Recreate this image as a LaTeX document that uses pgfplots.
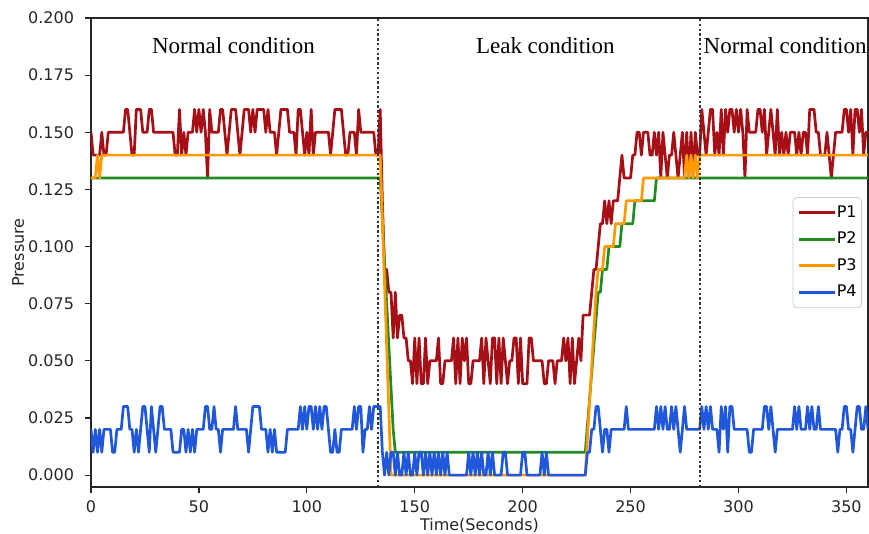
\documentclass[border=0pt]{standalone}
\usepackage{fontspec}
\setmainfont{DejaVu Sans}
\newfontfamily\annfont{Liberation Serif}
\usepackage{pgfplots}
\usepackage{pgfplotstable}
\pgfplotsset{compat=1.18}
\definecolor{cP1}{HTML}{A50F15}
\definecolor{cP2}{HTML}{228B22}
\definecolor{cP3}{HTML}{FF9A00}
\definecolor{cP4}{HTML}{2158DB}
\pgfplotstableread{
t p1 p4
0 0.15 0.02
1 0.14 0.01
2 0.14 0.02
3 0.14 0.01
4 0.14 0.02
5 0.15 0.01
6 0.14 0.02
7 0.14 0.02
8 0.15 0.02
9 0.15 0.02
10 0.15 0.01
11 0.15 0.01
12 0.15 0.02
13 0.15 0.02
14 0.15 0.02
15 0.15 0.03
16 0.16 0.03
17 0.16 0.03
18 0.15 0.02
19 0.14 0.02
20 0.14 0.01
21 0.16 0.02
22 0.16 0.01
23 0.16 0.02
24 0.15 0.03
25 0.15 0.03
26 0.15 0.02
27 0.16 0.01
28 0.16 0.03
29 0.15 0.02
30 0.15 0.01
31 0.15 0.02
32 0.15 0.03
33 0.15 0.03
34 0.15 0.02
35 0.15 0.02
36 0.15 0.02
37 0.15 0.02
38 0.15 0.01
39 0.14 0.01
40 0.14 0.01
41 0.16 0.01
42 0.14 0.02
43 0.15 0.02
44 0.14 0.01
45 0.15 0.02
46 0.15 0.01
47 0.15 0.02
48 0.16 0.01
49 0.15 0.02
50 0.16 0.02
51 0.15 0.02
52 0.16 0.02
53 0.15 0.03
54 0.13 0.03
55 0.16 0.02
56 0.15 0.02
57 0.15 0.03
58 0.15 0.02
59 0.15 0.02
60 0.16 0.01
61 0.16 0.02
62 0.15 0.02
63 0.14 0.02
64 0.15 0.02
65 0.16 0.02
66 0.16 0.02
67 0.16 0.03
68 0.15 0.02
69 0.14 0.02
70 0.15 0.02
71 0.16 0.02
72 0.16 0.02
73 0.16 0.01
74 0.15 0.02
75 0.16 0.03
76 0.15 0.03
77 0.16 0.03
78 0.16 0.03
79 0.16 0.02
80 0.16 0.02
81 0.15 0.02
82 0.16 0.01
83 0.15 0.02
84 0.15 0.01
85 0.15 0.02
86 0.14 0.01
87 0.15 0.01
88 0.16 0.01
89 0.16 0.01
90 0.16 0.01
91 0.16 0.02
92 0.15 0.02
93 0.15 0.02
94 0.15 0.02
95 0.14 0.02
96 0.16 0.02
97 0.16 0.03
98 0.15 0.02
99 0.14 0.03
100 0.15 0.02
101 0.14 0.03
102 0.16 0.03
103 0.14 0.02
104 0.15 0.03
105 0.15 0.02
106 0.15 0.03
107 0.15 0.02
108 0.15 0.03
109 0.15 0.03
110 0.15 0.02
111 0.14 0.01
112 0.15 0.01
113 0.16 0.02
114 0.16 0.01
115 0.16 0.01
116 0.16 0.02
117 0.15 0.02
118 0.14 0.02
119 0.14 0.02
120 0.15 0.02
121 0.15 0.02
122 0.15 0.03
123 0.14 0.02
124 0.16 0.03
125 0.15 0.03
126 0.15 0.01
127 0.15 0.02
128 0.15 0.02
129 0.15 0.03
130 0.15 0.02
131 0.15 0.03
132 0.14 0.03
133 0.14 0.03
134 0.16 0.03
135 0.12 0.01
136 0.09 0.00
137 0.09 0.01
138 0.08 0.00
139 0.08 0.01
140 0.06 0.01
141 0.08 0.00
142 0.06 0.01
143 0.07 0.00
144 0.07 0.00
145 0.06 0.01
146 0.06 0.00
147 0.05 0.01
148 0.05 0.00
149 0.04 0.00
150 0.06 0.01
151 0.04 0.00
152 0.06 0.01
153 0.04 0.01
154 0.04 0.00
155 0.06 0.01
156 0.04 0.00
157 0.05 0.01
158 0.05 0.00
159 0.05 0.01
160 0.05 0.00
161 0.06 0.01
162 0.04 0.00
163 0.04 0.01
164 0.05 0.00
165 0.05 0.01
166 0.05 0.00
167 0.05 0.00
168 0.06 0.00
169 0.04 0.00
170 0.06 0.00
171 0.04 0.00
172 0.06 0.00
173 0.05 0.00
174 0.06 0.00
175 0.04 0.01
176 0.04 0.00
177 0.05 0.01
178 0.05 0.00
179 0.05 0.01
180 0.05 0.00
181 0.06 0.01
182 0.04 0.00
183 0.06 0.00
184 0.05 0.01
185 0.04 0.00
186 0.06 0.01
187 0.06 0.00
188 0.04 0.00
189 0.06 0.00
190 0.04 0.00
191 0.06 0.01
192 0.05 0.01
193 0.04 0.00
194 0.05 0.00
195 0.05 0.00
196 0.06 0.00
197 0.06 0.00
198 0.04 0.00
199 0.06 0.00
200 0.04 0.01
201 0.04 0.01
202 0.04 0.00
203 0.06 0.00
204 0.06 0.00
205 0.05 0.00
206 0.05 0.00
207 0.05 0.00
208 0.05 0.00
209 0.05 0.01
210 0.04 0.00
211 0.04 0.01
212 0.05 0.00
213 0.05 0.00
214 0.05 0.00
215 0.04 0.00
216 0.05 0.00
217 0.05 0.00
218 0.05 0.00
219 0.06 0.00
220 0.05 0.00
221 0.06 0.00
222 0.04 0.00
223 0.06 0.00
224 0.04 0.00
225 0.05 0.00
226 0.06 0.00
227 0.05 0.00
228 0.07 0.00
229 0.07 0.00
230 0.07 0.01
231 0.07 0.01
232 0.08 0.02
233 0.09 0.02
234 0.09 0.03
235 0.10 0.03
236 0.11 0.02
237 0.11 0.01
238 0.12 0.02
239 0.11 0.02
240 0.12 0.01
241 0.11 0.02
242 0.12 0.02
243 0.12 0.02
244 0.12 0.02
245 0.13 0.02
246 0.14 0.02
247 0.13 0.02
248 0.13 0.03
249 0.13 0.02
250 0.13 0.02
251 0.14 0.02
252 0.14 0.02
253 0.15 0.02
254 0.15 0.02
255 0.14 0.02
256 0.15 0.02
257 0.15 0.02
258 0.15 0.02
259 0.14 0.02
260 0.14 0.02
261 0.15 0.02
262 0.14 0.03
263 0.15 0.02
264 0.13 0.03
265 0.15 0.02
266 0.14 0.03
267 0.13 0.02
268 0.14 0.02
269 0.14 0.03
270 0.15 0.02
271 0.14 0.03
272 0.13 0.02
273 0.14 0.01
274 0.15 0.02
275 0.13 0.03
276 0.15 0.02
277 0.13 0.02
278 0.15 0.02
279 0.13 0.02
280 0.15 0.02
281 0.14 0.02
282 0.14 0.02
283 0.16 0.03
284 0.15 0.02
285 0.14 0.03
286 0.15 0.02
287 0.16 0.03
288 0.16 0.02
289 0.14 0.02
290 0.15 0.02
291 0.14 0.01
292 0.16 0.03
293 0.14 0.02
294 0.16 0.03
295 0.15 0.01
296 0.16 0.03
297 0.16 0.03
298 0.15 0.02
299 0.16 0.02
300 0.15 0.02
301 0.16 0.02
302 0.15 0.02
303 0.13 0.02
304 0.16 0.02
305 0.15 0.01
306 0.15 0.01
307 0.15 0.02
308 0.15 0.02
309 0.16 0.02
310 0.16 0.02
311 0.15 0.02
312 0.16 0.03
313 0.14 0.03
314 0.15 0.02
315 0.16 0.03
316 0.15 0.02
317 0.14 0.01
318 0.16 0.02
319 0.14 0.02
320 0.15 0.02
321 0.14 0.02
322 0.15 0.02
323 0.14 0.02
324 0.15 0.02
325 0.15 0.02
326 0.15 0.03
327 0.14 0.02
328 0.15 0.03
329 0.14 0.02
330 0.15 0.02
331 0.15 0.02
332 0.14 0.03
333 0.16 0.02
334 0.16 0.03
335 0.16 0.02
336 0.15 0.02
337 0.15 0.03
338 0.14 0.02
339 0.14 0.02
340 0.14 0.02
341 0.15 0.02
342 0.14 0.02
343 0.13 0.02
344 0.14 0.02
345 0.15 0.02
346 0.15 0.01
347 0.15 0.02
348 0.15 0.02
349 0.16 0.03
350 0.16 0.03
351 0.15 0.02
352 0.16 0.02
353 0.14 0.01
354 0.16 0.02
355 0.16 0.03
356 0.15 0.03
357 0.16 0.02
358 0.14 0.02
359 0.15 0.03
360 0.15 0.02
}\noisydata

\begin{document}
\begin{tikzpicture}
\begin{axis}[
  scale only axis,
  width=388.5pt, height=234.5pt,
  xmin=0, xmax=360, ymin=-0.0052, ymax=0.2,
  xtick={0,50,100,150,200,250,300,350},
  ytick={0,0.025,0.05,0.075,0.1,0.125,0.15,0.175,0.2},
  tick pos=left,
  tick align=outside,
  major tick length=2.8pt,
  every tick/.style={black!85, line width=0.6pt},
  axis line style={black!85, line width=0.6pt},
  /pgf/number format/assume math mode=true,
  yticklabel style={/pgf/number format/fixed, /pgf/number format/fixed zerofill, /pgf/number format/precision=3, inner sep=0pt, xshift=-5.5pt},
  xticklabel style={/pgf/number format/fixed, /pgf/number format/precision=0, inner sep=0pt, anchor=north, yshift=-3.8pt},
  every tick label/.append style={font=\fontsize{8}{9.6}\selectfont, text=black!85},
  scaled y ticks=false,
  xlabel={Time(Seconds)},
  ylabel={Pressure},
  label style={font=\fontsize{8}{9.6}\selectfont, text=black!85},
  xlabel style={at={(axis description cs:0.5,-0.081)}, anchor=center},
  ylabel style={at={(axis description cs:-0.0939,0.5)}, anchor=center},
  legend style={at={(rel axis cs:0.9923,0.6183)}, anchor=north east,
    draw=black!20, rounded corners=2pt, fill=white, fill opacity=0.8, text opacity=1,
    font=\fontsize{8}{9.6}\selectfont, inner xsep=2.5pt, inner ysep=4pt,
    row sep=5.85pt,
    nodes={inner sep=0pt, text height=5.8pt, text depth=1.6pt},
    /tikz/every even column/.append style={column sep=6pt}},
  legend cell align=left,
  legend image code/.code={\draw[#1, line width=1.35pt] (0pt,0pt) -- (18pt,0pt);},
  every axis plot/.append style={line width=1.35pt, line join=round},
]
\addplot[cP1] table[x=t, y=p1] {\noisydata};
\addlegendentry{P1}
\addplot[cP2] coordinates {(0,0.13) (134,0.13) (140,0.02) (141,0.01) (229,0.01) (235,0.08) (236,0.08) (237,0.09) (239,0.09) (240,0.10) (245,0.10) (246,0.11) (251,0.11) (252,0.12) (261,0.12) (262,0.13) (360,0.13)};
\addlegendentry{P2}
\addplot[cP3] coordinates {(0,0.13) (2,0.13) (3,0.14) (4,0.13) (5,0.14) (134,0.14) (139,0.00) (229,0.00) (234,0.08) (235,0.09) (237,0.09) (238,0.10) (242,0.10) (243,0.11) (247,0.11) (248,0.12) (255,0.12) (256,0.13) (275,0.13) (276,0.14) (277,0.13) (278,0.14) (279,0.13) (280,0.14) (281,0.13) (282,0.14) (360,0.14)};
\addlegendentry{P3}
\addplot[cP4] table[x=t, y=p4] {\noisydata};
\addlegendentry{P4}
\addplot[black!80, line width=0.9pt, dash pattern=on 1.2pt off 1.2pt, forget plot] coordinates {(133,-0.0052) (133,0.2)};
\addplot[black!80, line width=0.9pt, dash pattern=on 1.2pt off 1.2pt, forget plot] coordinates {(282,-0.0052) (282,0.2)};
\node[font=\annfont\fontsize{11.5}{13}\selectfont] at (axis cs:66,0.1878) {Normal condition};
\node[font=\annfont\fontsize{11.5}{13}\selectfont] at (axis cs:210.5,0.1878) {Leak condition};
\node[font=\annfont\fontsize{11.5}{13}\selectfont] at (axis cs:321.6,0.1878) {Normal condition};
\end{axis}
\pgfresetboundingbox
\path[use as bounding box] ([shift={(-45.5pt,-23.5pt)}]current axis.south west) rectangle ([shift={(0.5pt,9pt)}]current axis.north east);
\end{tikzpicture}
\end{document}
